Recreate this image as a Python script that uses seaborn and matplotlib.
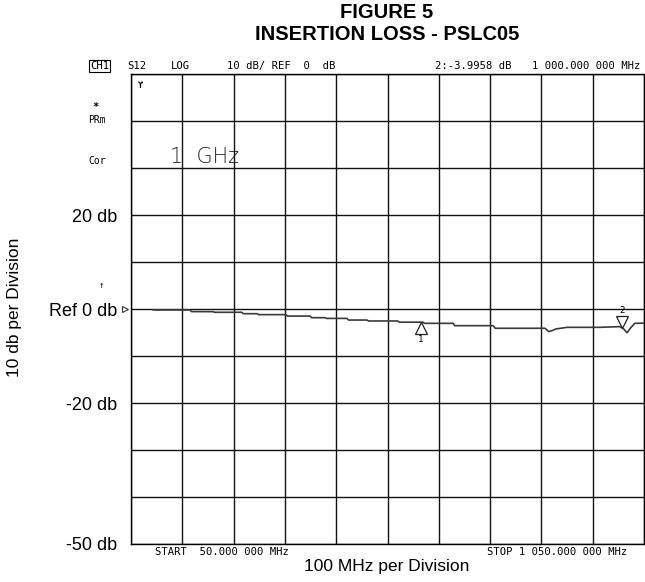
import matplotlib

matplotlib.use("Agg")
import matplotlib.pyplot as plt
import pandas as pd
import seaborn as sns
from matplotlib.transforms import offset_copy

# Trace (MHz, dB)
freq_mhz = [93, 165, 168, 210, 213, 266, 269, 296, 299, 352, 355, 399, 402, 428,
            431, 471, 474, 510, 513, 570, 573, 619, 622, 678, 681, 756, 760, 857,
            864, 871, 878, 900, 964, 1003, 1010, 1017, 1024, 1032, 1050]
loss_db = [-0.2, -0.2, -0.55, -0.57, -0.7, -0.7, -1.0, -1.0, -1.2, -1.2, -1.5,
           -1.5, -1.85, -1.85, -2.0, -2.0, -2.35, -2.35, -2.55, -2.55, -2.8, -2.8,
           -3.05, -3.05, -3.55, -3.55, -4.1, -4.1, -4.8, -4.6, -4.25, -3.9, -3.9,
           -3.75, -4.2, -5.05, -4.0, -3.05, -3.0]

marker_freq = [615, 1008]
marker_db = [-2.8, -3.9958]
marker_names = ["1", "2"]

ref_level = 0
y_ticks = [-50, -40, -30, -20, -10, 0, 10, 20, 30, 40, 50]
y_labels = ["-50 db", "", "", "-20 db", "", "Ref 0 db", "", "20 db", "", "", ""]
x_ticks = [50, 150, 250, 350, 450, 550, 650, 750, 850, 950, 1050]

W, H = 645, 582

sns.set_style("white")
plt.rcParams["font.family"] = ["Liberation Sans", "DejaVu Sans"]
plt.rcParams["text.color"] = "black"
plt.rcParams["ytick.color"] = "black"
MONO = ["DejaVu Sans Mono", "DejaVu Sans"]
MONO_SIZE = 7.6

fig = plt.figure(figsize=(W / 100, H / 100), dpi=100)
ax = fig.add_axes([131 / W, 1 - 544 / H, 513 / W, 470 / H])


def fig_text(x, y, s, **kw):
    """Place text using pixel coordinates of the output image."""
    kw.setdefault("va", "center")
    return fig.text(x / W, 1 - y / H, s, **kw)


trace = pd.DataFrame({"freq": freq_mhz, "db": loss_db})
sns.lineplot(data=trace, x="freq", y="db", estimator=None, color="#3a3a3a",
             linewidth=1.2, ax=ax)

ax.set_xlim(50, 1050)
ax.set_ylim(-50, 50)
ax.set_xticks(x_ticks)
ax.set_xticklabels([""] * len(x_ticks))
ax.set_yticks(y_ticks)
ax.set_yticklabels(y_labels, fontsize=13)
ax.tick_params(length=0, pad=10)
ax.grid(True, color="#111111", linewidth=1.0)
ax.set_axisbelow(True)
ax.set_xlabel("")
ax.set_ylabel("")
for sp in ax.spines.values():
    sp.set_color("black")
    sp.set_linewidth(1.0)

# marker 1 below the trace pointing up, marker 2 above pointing down
below = offset_copy(ax.transData, fig=fig, y=-4, units="points")
above = offset_copy(ax.transData, fig=fig, y=4, units="points")
ax.plot(marker_freq[0], marker_db[0], marker="^", ms=8, mfc="white", mec="#222222",
        mew=0.9, transform=below, ls="none")
ax.plot(marker_freq[1], marker_db[1], marker="v", ms=8, mfc="white", mec="#222222",
        mew=0.9, transform=above, ls="none")
ax.text(marker_freq[0], marker_db[0], marker_names[0], family=MONO, fontsize=6.5,
        ha="center", va="top",
        transform=offset_copy(ax.transData, fig=fig, y=-9, units="points"))
ax.text(marker_freq[1], marker_db[1], marker_names[1], family=MONO, fontsize=6.5,
        ha="center", va="bottom",
        transform=offset_copy(ax.transData, fig=fig, y=9, units="points"))

# reference level pointer at the left edge
ax.plot(50, ref_level, marker=">", ms=4, mfc="white", mec="#333333", mew=0.8,
        clip_on=False, transform=offset_copy(ax.transData, fig=fig, x=-4, units="points"))

# titles
fig_text(387, 13, "FIGURE 5", fontsize=14.5, fontweight="bold", ha="center")
fig_text(387, 35, "INSERTION LOSS - PSLC05", fontsize=14.5, fontweight="bold", ha="center")

# analyzer annotation line
fig_text(90, 66, "CH1", family=MONO, fontsize=MONO_SIZE, ha="left",
         bbox=dict(boxstyle="square,pad=0.1", fc="none", ec="black", lw=0.8))
fig_text(127, 66, "S12", family=MONO, fontsize=MONO_SIZE, ha="left")
fig_text(171, 66, "LOG", family=MONO, fontsize=MONO_SIZE, ha="left")
fig_text(227, 66, "10 dB/ REF  0  dB", family=MONO, fontsize=MONO_SIZE, ha="left")
fig_text(435, 66, "2:-3.9958 dB", family=MONO, fontsize=MONO_SIZE, ha="left")
fig_text(532, 66, "1 000.000 000 MHz", family=MONO, fontsize=MONO_SIZE, ha="left")

fig_text(92, 107, "*", family=MONO, fontsize=MONO_SIZE, ha="left", fontweight="bold")
fig_text(88, 120, "PRm", family=MONO, fontsize=7, ha="left")
fig_text(88, 161, "Cor", family=MONO, fontsize=7, ha="left")
fig_text(138, 85, "ϒ", family=MONO, fontsize=6, ha="left", fontweight="bold")
fig_text(101, 285, "↑", family=MONO, fontsize=6.5, ha="center")

fig_text(170, 157, "1  GHz", family=["DejaVu Sans"], fontweight="light",
         fontsize=15, ha="left", color="#222222")

fig_text(155, 552, "START  50.000 000 MHz", family=MONO, fontsize=MONO_SIZE, ha="left")
fig_text(487, 552, "STOP 1 050.000 000 MHz", family=MONO, fontsize=MONO_SIZE, ha="left")

fig_text(387, 566, "100 MHz per Division", fontsize=12.5, ha="center")
fig_text(15, 307, "10 db per Division", fontsize=12.5, ha="center", rotation=90)

fig.savefig("out.png", dpi=100)
